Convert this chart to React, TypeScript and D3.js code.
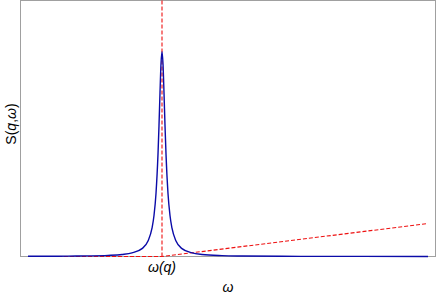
import * as d3 from 'd3'

// spectral function S(q, ω) sampled around the peak at ω(q)
const omega = [
  0, 0.5, 1, 1.5, 2, 2.35, 2.6, 2.85, 3.0, 3.1, 3.15, 3.2, 3.25, 3.275, 3.3, 3.325,
  3.35, 3.375, 3.4, 3.425, 3.45, 3.5, 3.55, 3.6, 3.7, 3.85, 4.1, 4.35, 4.85, 5.35,
  6.35, 7.35, 8.35, 10,
]
const spectrum = [
  0.0009, 0.0012, 0.0018, 0.0029, 0.0055, 0.0099, 0.0175, 0.0385, 0.0755, 0.138, 0.2,
  0.308, 0.5, 0.64, 0.8, 0.941, 1.0, 0.941, 0.8, 0.64, 0.5, 0.308, 0.2, 0.138, 0.0755,
  0.0385, 0.0175, 0.0099, 0.0044, 0.0025, 0.0011, 0.0006, 0.0004, 0.0002,
]
const peakOmega = 3.35
// red dashed guide: flat up to ω(q), then rising
const guideOmega = [0, 3.35, 10]
const guideValue = [0, 0, 0.161]

const width = 436
const height = 297
const frame = { left: 20.5, top: 0.5, right: 435.5, bottom: 256.5 }

export default function App() {
  const x = d3.scaleLinear().domain([0, 10]).range([28, 428])
  const y = d3.scaleLinear().domain([0, 1.25]).range([frame.bottom, frame.top])

  const line = d3
    .line<[number, number]>()
    .x(d => x(d[0]))
    .y(d => y(d[1]))

  const curvePath = line.curve(d3.curveMonotoneX)(
    omega.map((w, i) => [w, spectrum[i]] as [number, number])
  )
  const guidePath = d3
    .line<[number, number]>()
    .x(d => x(d[0]))
    .y(d => y(d[1]))(guideOmega.map((w, i) => [w, guideValue[i]] as [number, number]))

  const font = 'Liberation Sans, Arial, sans-serif'

  return (
    <svg
      width={width}
      height={height}
      style={{ position: 'absolute', left: 0, top: 0, background: '#fff' }}
    >
      <rect
        x={frame.left}
        y={frame.top}
        width={frame.right - frame.left}
        height={frame.bottom - frame.top}
        fill="none"
        stroke="#a0a0a0"
        strokeWidth={1}
      />
      <line
        x1={x(peakOmega)}
        x2={x(peakOmega)}
        y1={y(1.25)}
        y2={y(0)}
        stroke="#ee1111"
        strokeWidth={1.1}
        strokeDasharray="4,2"
      />
      <path d={guidePath ?? ''} fill="none" stroke="#ee1111" strokeWidth={1.1} strokeDasharray="4,2" />
      <path d={curvePath ?? ''} fill="none" stroke="#0b0ba8" strokeWidth={1.4} />

      <text
        x={x(peakOmega)}
        y={272}
        textAnchor="middle"
        fontFamily={font}
        fontSize={14}
        fontStyle="italic"
      >
        ω(q)
      </text>
      <text x={228} y={292} textAnchor="middle" fontFamily={font} fontSize={14} fontStyle="italic">
        ω
      </text>
      <text
        transform={`translate(16,124) rotate(-90)`}
        textAnchor="middle"
        fontFamily={font}
        fontSize={14}
      >
        S(<tspan fontStyle="italic">q</tspan>,<tspan fontStyle="italic">ω</tspan>)
      </text>
    </svg>
  )
}
